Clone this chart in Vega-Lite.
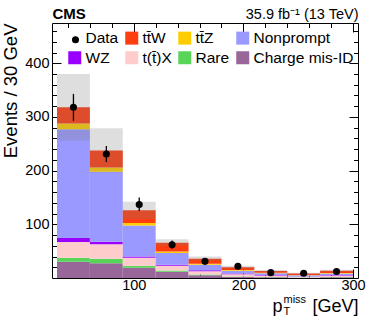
{
  "$schema": "https://vega.github.io/schema/vega-lite/v6.json",
  "autosize": {"type": "none"},
  "width": 306,
  "height": 255,
  "padding": {"left": 52, "top": 23, "right": 16, "bottom": 41},
  "background": "white",
  "config": {
    "view": {"stroke": "black", "strokeWidth": 1},
    "axis": {"labelFont": "Liberation Sans", "titleFont": "Liberation Sans", "labelFontSize": 14.5, "labelColor": "black", "titleColor": "black", "tickColor": "black", "tickWidth": 1, "domain": false, "grid": false, "zindex": 1, "titleFontWeight": "normal", "titleLimit": 0}
  },
  "datasets": {
    "mc": [
      {"lo":30,"hi":60,"process":"Charge mis-ID","k":1,"events":30.5},
      {"lo":30,"hi":60,"process":"Rare","k":2,"events":7},
      {"lo":30,"hi":60,"process":"t(t\u0304)X","k":3,"events":29.5},
      {"lo":30,"hi":60,"process":"WZ","k":4,"events":7.5},
      {"lo":30,"hi":60,"process":"Nonprompt","k":5,"events":202.5},
      {"lo":30,"hi":60,"process":"tt\u0304Z","k":6,"events":11},
      {"lo":30,"hi":60,"process":"tt\u0304W","k":7,"events":30},
      {"lo":60,"hi":90,"process":"Charge mis-ID","k":1,"events":27.7},
      {"lo":60,"hi":90,"process":"Rare","k":2,"events":8.3},
      {"lo":60,"hi":90,"process":"t(t\u0304)X","k":3,"events":27},
      {"lo":60,"hi":90,"process":"WZ","k":4,"events":4.7},
      {"lo":60,"hi":90,"process":"Nonprompt","k":5,"events":130},
      {"lo":60,"hi":90,"process":"tt\u0304Z","k":6,"events":8},
      {"lo":60,"hi":90,"process":"tt\u0304W","k":7,"events":32},
      {"lo":90,"hi":120,"process":"Charge mis-ID","k":1,"events":19},
      {"lo":90,"hi":120,"process":"Rare","k":2,"events":4},
      {"lo":90,"hi":120,"process":"t(t\u0304)X","k":3,"events":14.8},
      {"lo":90,"hi":120,"process":"WZ","k":4,"events":2.2},
      {"lo":90,"hi":120,"process":"Nonprompt","k":5,"events":58},
      {"lo":90,"hi":120,"process":"tt\u0304Z","k":6,"events":4.4},
      {"lo":90,"hi":120,"process":"tt\u0304W","k":7,"events":23.6},
      {"lo":120,"hi":150,"process":"Charge mis-ID","k":1,"events":11.6},
      {"lo":120,"hi":150,"process":"Rare","k":2,"events":2.4},
      {"lo":120,"hi":150,"process":"t(t\u0304)X","k":3,"events":8.8},
      {"lo":120,"hi":150,"process":"WZ","k":4,"events":1.9},
      {"lo":120,"hi":150,"process":"Nonprompt","k":5,"events":21.7},
      {"lo":120,"hi":150,"process":"tt\u0304Z","k":6,"events":3.1},
      {"lo":120,"hi":150,"process":"tt\u0304W","k":7,"events":16.3},
      {"lo":150,"hi":180,"process":"Charge mis-ID","k":1,"events":5},
      {"lo":150,"hi":180,"process":"Rare","k":2,"events":1.5},
      {"lo":150,"hi":180,"process":"t(t\u0304)X","k":3,"events":6},
      {"lo":150,"hi":180,"process":"WZ","k":4,"events":2},
      {"lo":150,"hi":180,"process":"Nonprompt","k":5,"events":10},
      {"lo":150,"hi":180,"process":"tt\u0304Z","k":6,"events":2},
      {"lo":150,"hi":180,"process":"tt\u0304W","k":7,"events":9.5},
      {"lo":180,"hi":210,"process":"Charge mis-ID","k":1,"events":2},
      {"lo":180,"hi":210,"process":"Rare","k":2,"events":1},
      {"lo":180,"hi":210,"process":"t(t\u0304)X","k":3,"events":4},
      {"lo":180,"hi":210,"process":"WZ","k":4,"events":1.5},
      {"lo":180,"hi":210,"process":"Nonprompt","k":5,"events":5},
      {"lo":180,"hi":210,"process":"tt\u0304Z","k":6,"events":1.5},
      {"lo":180,"hi":210,"process":"tt\u0304W","k":7,"events":5},
      {"lo":210,"hi":240,"process":"Charge mis-ID","k":1,"events":1.5},
      {"lo":210,"hi":240,"process":"Rare","k":2,"events":0.5},
      {"lo":210,"hi":240,"process":"t(t\u0304)X","k":3,"events":2.5},
      {"lo":210,"hi":240,"process":"WZ","k":4,"events":1},
      {"lo":210,"hi":240,"process":"Nonprompt","k":5,"events":3.5},
      {"lo":210,"hi":240,"process":"tt\u0304Z","k":6,"events":1},
      {"lo":210,"hi":240,"process":"tt\u0304W","k":7,"events":3},
      {"lo":240,"hi":270,"process":"Charge mis-ID","k":1,"events":0.5},
      {"lo":240,"hi":270,"process":"Rare","k":2,"events":0.5},
      {"lo":240,"hi":270,"process":"t(t\u0304)X","k":3,"events":1.5},
      {"lo":240,"hi":270,"process":"WZ","k":4,"events":0.5},
      {"lo":240,"hi":270,"process":"Nonprompt","k":5,"events":2},
      {"lo":240,"hi":270,"process":"tt\u0304Z","k":6,"events":0.8},
      {"lo":240,"hi":270,"process":"tt\u0304W","k":7,"events":2.5},
      {"lo":270,"hi":300,"process":"Charge mis-ID","k":1,"events":1.5},
      {"lo":270,"hi":300,"process":"Rare","k":2,"events":0.5},
      {"lo":270,"hi":300,"process":"t(t\u0304)X","k":3,"events":2.5},
      {"lo":270,"hi":300,"process":"WZ","k":4,"events":1},
      {"lo":270,"hi":300,"process":"Nonprompt","k":5,"events":3},
      {"lo":270,"hi":300,"process":"tt\u0304Z","k":6,"events":1},
      {"lo":270,"hi":300,"process":"tt\u0304W","k":7,"events":4}
    ],
    "bins": [
      {"lo":30,"hi":60,"center":45,"data":318,"data_lo":293,"data_hi":343,"unc_lo":256,"unc_hi":380},
      {"lo":60,"hi":90,"center":75,"data":231,"data_lo":216,"data_hi":246,"unc_lo":197,"unc_hi":279},
      {"lo":90,"hi":120,"center":105,"data":137,"data_lo":125,"data_hi":150,"unc_lo":110,"unc_hi":142},
      {"lo":120,"hi":150,"center":135,"data":62,"data_lo":54.5,"data_hi":70,"unc_lo":60,"unc_hi":72},
      {"lo":150,"hi":180,"center":165,"data":31,"data_lo":25.4,"data_hi":36.6,"unc_lo":32,"unc_hi":40},
      {"lo":180,"hi":210,"center":195,"data":22,"data_lo":17.3,"data_hi":26.7,"unc_lo":17,"unc_hi":23},
      {"lo":210,"hi":240,"center":225,"data":10,"data_lo":6.8,"data_hi":13.2,"unc_lo":11,"unc_hi":15},
      {"lo":240,"hi":270,"center":255,"data":9,"data_lo":6,"data_hi":12,"unc_lo":7,"unc_hi":9.6},
      {"lo":270,"hi":300,"center":285,"data":12,"data_lo":8.5,"data_hi":15.5,"unc_lo":11.5,"unc_hi":15.5}
    ]
  },
  "resolve": {"axis": {"x": "independent", "y": "independent"}},
  "layer": [
    {
      "data": {"name": "mc"},
      "mark": {"type": "bar", "orient": "vertical", "stroke": null, "binSpacing": 0},
      "encoding": {
        "x": {"field": "lo", "type": "quantitative", "scale": {"domain": [30, 300], "nice": false, "zero": false},
              "axis": {"orient": "bottom", "values": [100, 200, 300], "tickSize": -9, "labelPadding": 9, "labelFlush": true, "labelFlushOffset": 4,
                       "title": "p\u00a0\u00a0\u00a0\u00a0\u00a0\u00a0[GeV]", "titleFontSize": 18, "titleX": 306, "titleY": 33, "titleAlign": "right", "titleBaseline": "alphabetic"}},
        "x2": {"field": "hi"},
        "y": {"field": "events", "type": "quantitative", "stack": "zero", "scale": {"domain": [0, 475], "nice": false},
              "axis": {"orient": "left", "values": [100, 200, 300, 400], "tickSize": -9, "labelPadding": 12,
                       "title": "Events / 30 GeV", "titleFontSize": 18.5, "titleAngle": -90, "titleX": -36, "titleY": 0, "titleAlign": "right", "titleBaseline": "alphabetic"}},
        "color": {"field": "process", "type": "nominal",
                  "scale": {"domain": ["Data", "tt\u0304W", "tt\u0304Z", "Nonprompt", "WZ", "t(t\u0304)X", "Rare", "Charge mis-ID"],
                            "range": ["#ffffff", "#fe3d10", "#ffcc00", "#9999ff", "#9900ff", "#ffcccc", "#58d558", "#996699"]},
                  "legend": {"title": null, "orient": "none", "legendX": 15, "legendY": 7, "columns": 4, "direction": "horizontal", "gridAlign": "each", "columnPadding": 5, "rowPadding": 3, "padding": 0,
                             "labelFont": "Liberation Sans", "labelFontSize": 15.5, "labelColor": "black", "labelOffset": 3, "symbolType": "square", "symbolSize": 169, "symbolStrokeWidth": 0}},
        "order": {"field": "k", "type": "quantitative"}
      }
    },
    {
      "data": {"name": "bins"},
      "mark": {"type": "rect", "fill": "#7a7a7a", "fillOpacity": 0.25},
      "encoding": {
        "x": {"field": "lo", "type": "quantitative",
              "axis": {"orient": "bottom", "values": [40, 60, 80, 120, 140, 160, 180, 220, 240, 260, 280], "tickSize": -4.5, "labels": false,
                       "title": ["miss", "T"], "titleFontSize": 11, "titleLineHeight": 12, "titleX": 231, "titleY": 24, "titleAlign": "left", "titleBaseline": "alphabetic"}},
        "x2": {"field": "hi"},
        "y": {"field": "unc_lo", "type": "quantitative", "stack": null,
              "axis": {"orient": "left", "values": [20, 40, 60, 80, 120, 140, 160, 180, 220, 240, 260, 280, 320, 340, 360, 380, 420, 440, 460], "tickSize": -4.5, "labels": false, "title": null}},
        "y2": {"field": "unc_hi"}
      }
    },
    {
      "data": {"name": "bins"},
      "mark": {"type": "rule", "color": "black", "strokeWidth": 1.3},
      "encoding": {
        "x": {"field": "center", "type": "quantitative",
              "axis": {"orient": "top", "values": [100, 200, 300], "tickSize": -9, "labels": false,
                       "title": "CMS", "titleFontSize": 15, "titleFontWeight": "bold", "titleX": 0, "titleY": -5, "titleAlign": "left", "titleBaseline": "alphabetic"}},
        "y": {"field": "data_lo", "type": "quantitative",
              "axis": {"orient": "right", "values": [100, 200, 300, 400], "tickSize": -9, "labels": false, "title": null}},
        "y2": {"field": "data_hi"}
      }
    },
    {
      "data": {"name": "bins"},
      "mark": {"type": "point", "shape": "circle", "filled": true, "size": 50, "color": "black", "opacity": 1},
      "encoding": {
        "x": {"field": "center", "type": "quantitative",
              "axis": {"orient": "top", "values": [40, 60, 80, 120, 140, 160, 180, 220, 240, 260, 280], "tickSize": -4.5, "labels": false,
                       "title": "35.9 fb\u207b\u00b9 (13 TeV)", "titleFontSize": 14.5, "titleX": 306, "titleY": -5, "titleAlign": "right", "titleBaseline": "alphabetic"}},
        "y": {"field": "data", "type": "quantitative",
              "axis": {"orient": "right", "values": [20, 40, 60, 80, 120, 140, 160, 180, 220, 240, 260, 280, 320, 340, 360, 380, 420, 440, 460], "tickSize": -4.5, "labels": false, "title": null}},
        "shape": {"datum": "Data", "type": "nominal", "scale": {"domain": ["Data"], "range": ["circle"]},
                  "legend": {"title": null, "orient": "none", "legendX": 19.5, "legendY": 12.8, "padding": 0, "symbolSize": 50, "symbolFillColor": "black", "symbolStrokeWidth": 0, "labelFontSize": 1, "labelOpacity": 0, "labelOffset": 0}}
      }
    }
  ]
}
